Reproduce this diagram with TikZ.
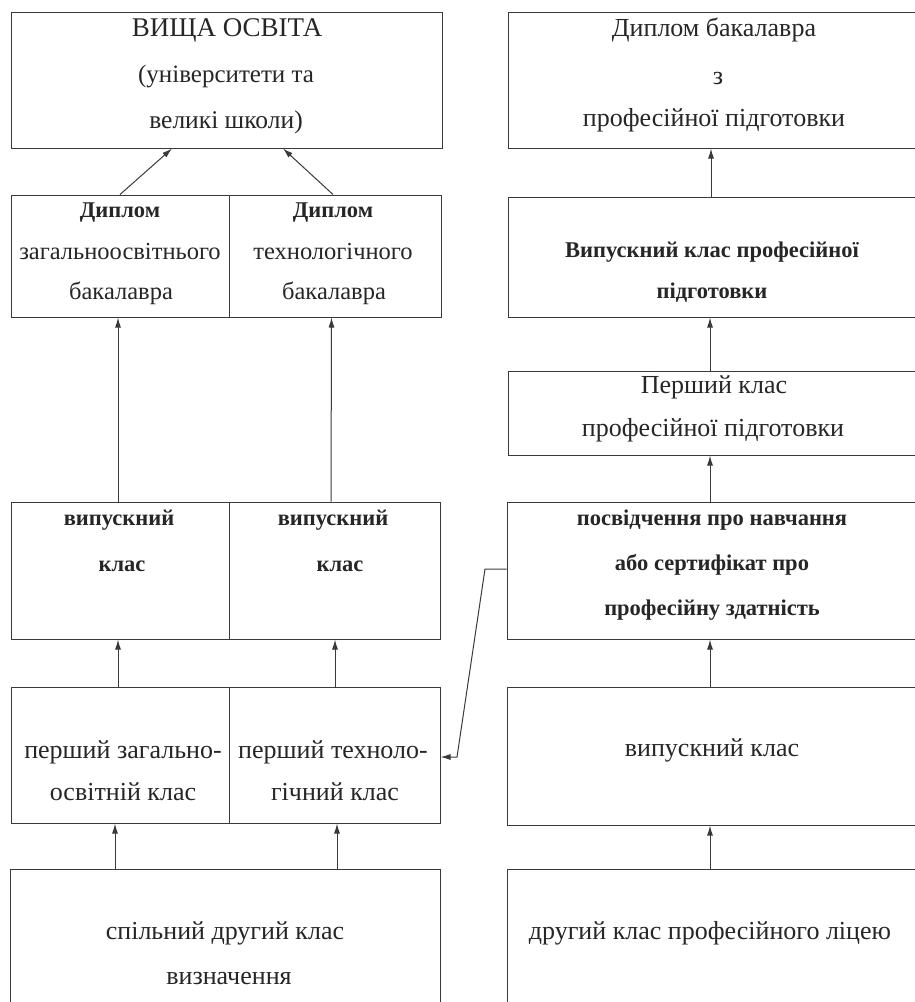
\documentclass[tikz,border=0pt]{standalone}
\usepackage{fontspec}
\setmainfont{Liberation Serif}
\usetikzlibrary{arrows.meta}
\definecolor{linec}{HTML}{3A3A3A}
\definecolor{textc}{HTML}{262626}
\tikzset{
  box/.style={draw=linec, line width=1pt, inner sep=0pt, fill=none},
  lbl/.style={text=textc, font=\fontsize{26}{28}\selectfont, inner sep=0pt, text height=12pt, text depth=0pt},
  slbl/.style={lbl, font=\fontsize{24.5}{26}\selectfont},
  blbl/.style={lbl, font=\fontsize{22.5}{25}\selectfont\bfseries, text height=10.5pt},
  conn/.style={draw=linec, line width=1pt, -{Latex[length=10pt,width=6pt]}}
}
\begin{document}
\begin{tikzpicture}[x=1pt,y=-1pt]
\useasboundingbox (0,0) rectangle (915,1002);
\fill[white] (0,0) rectangle (915,1002);
\clip (0,0) rectangle (915,1002);
% left column boxes
\node[box, minimum width=431pt, minimum height=136pt] (A) at (226.5,80) {};
\node[box, minimum width=218pt, minimum height=122pt] (B1) at (120,256) {};
\node[box, minimum width=212pt, minimum height=122pt] (B2) at (335,256) {};
\node[box, minimum width=218pt, minimum height=137pt] (C1) at (120,570.5) {};
\node[box, minimum width=211pt, minimum height=137pt] (C2) at (334.5,570.5) {};
\node[box, minimum width=218pt, minimum height=136pt] (D1) at (120,755) {};
\node[box, minimum width=211pt, minimum height=136pt] (D2) at (334.5,755) {};
\node[box, minimum width=430pt, minimum height=150pt] (E) at (225,944) {};
% right column boxes
\node[box, minimum width=420pt, minimum height=136pt] (R1) at (718,80) {};
\node[box, minimum width=420pt, minimum height=120pt] (R2) at (718,257) {};
\node[box, minimum width=420pt, minimum height=84pt] (R3) at (718,413) {};
\node[box, minimum width=420pt, minimum height=137pt] (R4) at (717,570.5) {};
\node[box, minimum width=420pt, minimum height=138pt] (R5) at (717,756) {};
\node[box, minimum width=420pt, minimum height=150pt] (R6) at (717,944) {};
% texts left
\node[lbl, font=\fontsize{27}{29}\selectfont] (a1) at (227,30) {ВИЩА ОСВІТА};
\node[lbl, font=\fontsize{25}{27}\selectfont] (a2) at (226,76) {(університети та};
\node[lbl, font=\fontsize{25.5}{27}\selectfont] (a3) at (226,122) {великі школи)};
\node[blbl] (b11) at (120,212) {Диплом};
\node[slbl] (b12) at (120,253) {загальноосвітнього};
\node[slbl] (b13) at (121,293) {бакалавра};
\node[blbl] (b21) at (333,212) {Диплом};
\node[slbl] (b22) at (333,253) {технологічного};
\node[slbl] (b23) at (334,293) {бакалавра};
\node[blbl] (c11) at (119,520) {випускний};
\node[blbl] (c12) at (122,566) {клас};
\node[blbl] (c21) at (333,520) {випускний};
\node[blbl] (c22) at (340,566) {клас};
\node[lbl] (d11) at (123,752) {перший загально-};
\node[lbl] (d12) at (123,794) {освітній клас};
\node[lbl] (d21) at (333,752) {перший техноло-};
\node[lbl] (d22) at (335,794) {гічний клас};
\node[lbl] (e1) at (225,933) {спільний другий клас};
\node[lbl] (e2) at (229,978) {визначення};
% texts right
\node[lbl] (r11) at (714,30) {Диплом бакалавра};
\node[lbl] (r12) at (718,78) {з};
\node[lbl] (r13) at (714,120) {професійної підготовки};
\node[blbl] (r21) at (712,252) {Випускний клас професійної};
\node[blbl] (r22) at (712,293) {підготовки};
\node[lbl] (r31) at (714,387) {Перший клас};
\node[lbl] (r32) at (713,430) {професійної підготовки};
\node[blbl] (r41) at (712,520) {посвідчення про навчання};
\node[blbl] (r42) at (712,565) {або сертифікат про};
\node[blbl] (r43) at (712,610) {професійну здатність};
\node[lbl] (r51) at (712,750) {випускний клас};
\node[lbl] (r61) at (710,933) {другий клас професійного ліцею};
% connectors left
\draw[conn] (B1.north) -- ([xshift=-54.5pt]A.south);
\draw[conn] ([xshift=-2pt]B2.north) -- ([xshift=56.5pt]A.south);
\draw[conn] ([xshift=-2pt]C1.north) -- ([xshift=-2pt]B1.south);
\draw[conn] ([xshift=-3.5pt]C2.north) -- ([xshift=-3.5pt]B2.south);
\draw[conn] ([xshift=-2pt]D1.north) -- ([xshift=-2pt]C1.south);
\draw[conn] ([xshift=0.5pt]D2.north) -- ([xshift=0.5pt]C2.south);
\draw[conn] ([xshift=-110pt]E.north) -- ([xshift=-5pt]D1.south);
\draw[conn] ([xshift=112pt]E.north) -- ([xshift=2.5pt]D2.south);
% connectors right
\draw[conn] ([xshift=-7pt]R2.north) -- ([xshift=-7pt]R1.south);
\draw[conn] ([xshift=-8pt]R3.north) -- ([xshift=-8pt]R2.south);
\draw[conn] ([xshift=-7pt]R4.north) -- ([xshift=-8pt]R3.south);
\draw[conn] ([xshift=-7pt]R5.north) -- ([xshift=-7pt]R4.south);
\draw[conn] ([xshift=-7pt]R6.north) -- ([xshift=-7pt]R5.south);
% cross connector
\coordinate (k1) at (485,569);
\coordinate (k2) at (457,757);
\draw[conn] (R4.west |- k1) -- (k1) -- (k2) -- (k2 -| D2.east);
\end{tikzpicture}
\end{document}
